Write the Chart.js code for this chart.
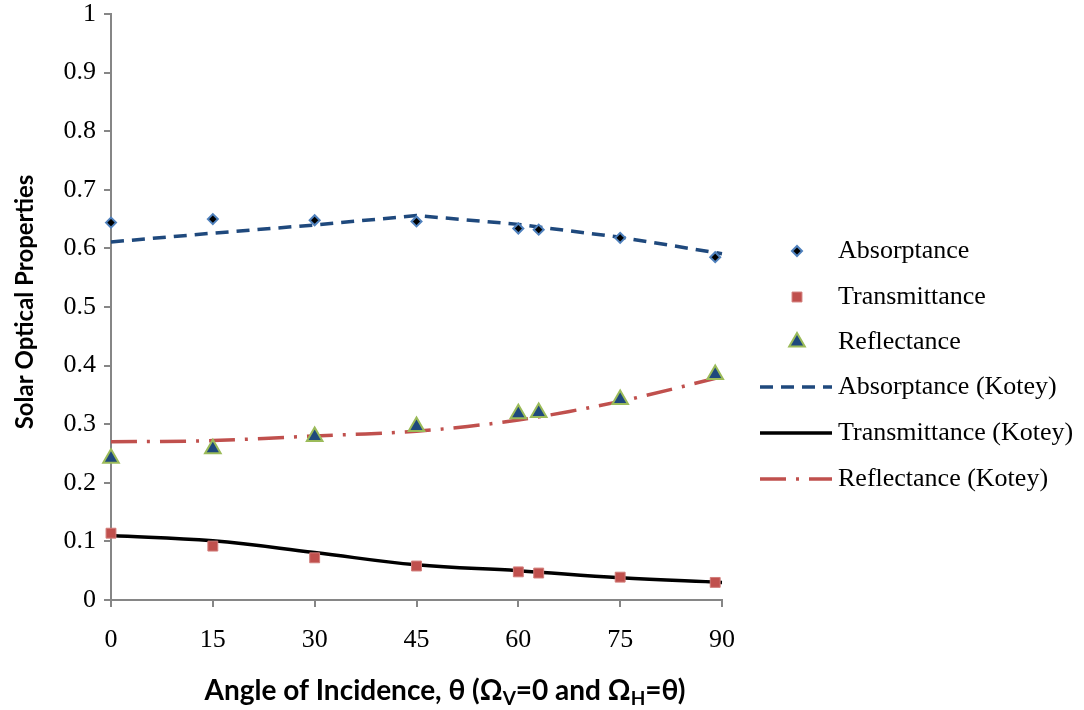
<!DOCTYPE html>
<html>
<head>
<meta charset="utf-8">
<script src="https://cdn.jsdelivr.net/npm/chart.js@4.4.0/dist/chart.umd.min.js"></script>
<style>
  html, body { margin: 0; padding: 0; background: #fff; }
</style>
</head>
<body>
<canvas id="chart" width="1084" height="710"></canvas>
<script>
// measured points
const angles = [0, 15, 30, 45, 60, 63, 75, 89];
const absorptance = [0.644, 0.650, 0.648, 0.646, 0.634, 0.632, 0.618, 0.585];
const transmittance = [0.114, 0.092, 0.072, 0.058, 0.048, 0.046, 0.039, 0.030];
const reflectance = [0.242, 0.258, 0.279, 0.296, 0.318, 0.320, 0.342, 0.385];

// Kotey model curves
const koteyAngles = [0, 15, 30, 45, 60, 75, 90];
const koteyAbs = [0.611, 0.626, 0.640, 0.656, 0.641, 0.619, 0.591];
const koteyTrans = [0.110, 0.101, 0.081, 0.060, 0.050, 0.038, 0.030];
const koteyRefl = [0.270, 0.272, 0.280, 0.288, 0.307, 0.339, 0.381];

const xTicks = [0, 15, 30, 45, 60, 75, 90];
const yTicks = [0, 0.1, 0.2, 0.3, 0.4, 0.5, 0.6, 0.7, 0.8, 0.9, 1];

const yTitle = 'Solar Optical Properties';
// [text, isSubscript]
const xTitle = [['Angle of Incidence, θ (Ω', false], ['V', true], ['=0 and Ω', false], ['H', true], ['=θ)', false]];

const labels = ['Absorptance', 'Transmittance', 'Reflectance',
  'Absorptance (Kotey)', 'Transmittance (Kotey)', 'Reflectance (Kotey)'];

function pts(xs, ys) {
  return xs.map((x, i) => ({ x: x, y: ys[i] }));
}

const serif = '"Liberation Serif", "Times New Roman", serif';
const sansBold = 'Lato, "Open Sans", sans-serif';
const axisGray = '#868686';

// titles + legend drawn by hand (needs subscripts / line samples)
const extras = {
  id: 'extras',
  afterDraw(c) {
    const ctx = c.ctx;

    ctx.save();
    ctx.fillStyle = '#000';
    ctx.font = 'bold 24px ' + sansBold;
    ctx.translate(33, 302);
    ctx.rotate(-Math.PI / 2);
    ctx.textAlign = 'center';
    ctx.textBaseline = 'alphabetic';
    ctx.fillText(yTitle, 0, 0);
    ctx.restore();

    ctx.save();
    ctx.fillStyle = '#000';
    ctx.textBaseline = 'alphabetic';
    ctx.textAlign = 'left';
    let total = 0;
    xTitle.forEach(p => {
      ctx.font = 'bold ' + (p[1] ? 19 : 28) + 'px ' + sansBold;
      total += ctx.measureText(p[0]).width;
    });
    let x = 445 - total / 2;
    xTitle.forEach(p => {
      ctx.font = 'bold ' + (p[1] ? 19 : 28) + 'px ' + sansBold;
      ctx.fillText(p[0], x, p[1] ? 705 : 700);
      x += ctx.measureText(p[0]).width;
    });
    ctx.restore();

    // legend
    const rows = [251, 297, 342, 387, 433, 479];
    c.data.datasets.forEach((ds, i) => {
      const y = rows[i];
      ctx.save();
      if (ds.showLine === false) {
        ctx.fillStyle = ds.pointBackgroundColor;
        ctx.strokeStyle = ds.pointBorderColor;
        ctx.lineWidth = ds.pointBorderWidth;
        Chart.helpers.drawPoint(ctx, {
          pointStyle: ds.pointStyle, radius: ds.pointRadius,
          rotation: 0, borderWidth: ds.pointBorderWidth
        }, 797, y);
      } else {
        ctx.strokeStyle = ds.borderColor;
        ctx.lineWidth = ds.borderWidth;
        ctx.setLineDash(ds.borderDash || []);
        ctx.beginPath();
        ctx.moveTo(760, y);
        ctx.lineTo(832, y);
        ctx.stroke();
      }
      ctx.restore();
      ctx.save();
      ctx.fillStyle = '#000';
      ctx.font = '26px ' + serif;
      ctx.textBaseline = 'middle';
      ctx.fillText(ds.label, 838, y);
      ctx.restore();
    });
  }
};

new Chart(document.getElementById('chart'), {
  type: 'line',
  data: {
    datasets: [
      {
        label: labels[0], data: pts(angles, absorptance), showLine: false,
        pointStyle: 'rectRot', pointRadius: 5, pointBackgroundColor: '#000',
        pointBorderColor: '#4F81BD', pointBorderWidth: 2, clip: false
      },
      {
        label: labels[1], data: pts(angles, transmittance), showLine: false,
        pointStyle: 'rect', pointRadius: 7, pointBackgroundColor: '#C0504D',
        pointBorderColor: '#D27E7B', pointBorderWidth: 1, clip: false
      },
      {
        label: labels[2], data: pts(angles, reflectance), showLine: false,
        pointStyle: 'triangle', pointRadius: 9, pointBackgroundColor: '#1F497D',
        pointBorderColor: '#9BBB59', pointBorderWidth: 2, clip: false
      },
      {
        label: labels[3], data: pts(koteyAngles, koteyAbs),
        borderColor: '#1F497D', borderWidth: 3.5, borderDash: [13, 8],
        pointRadius: 0, tension: 0, clip: false
      },
      {
        label: labels[4], data: pts(koteyAngles, koteyTrans),
        borderColor: '#000', borderWidth: 3.5,
        pointRadius: 0, tension: 0.4, clip: false
      },
      {
        label: labels[5], data: pts(koteyAngles, koteyRefl),
        borderColor: '#C0504D', borderWidth: 3.5, borderDash: [26, 10, 3, 10],
        pointRadius: 0, tension: 0.3, clip: false
      }
    ]
  },
  options: {
    responsive: false,
    animation: false,
    layout: { padding: { left: 0, top: 14, right: 362, bottom: 0 } },
    plugins: { legend: { display: false }, tooltip: { enabled: false } },
    scales: {
      x: {
        type: 'linear', min: 0, max: 90,
        afterFit: s => { s.height = 110; s.paddingLeft = 0; s.paddingRight = 0; },
        afterBuildTicks: s => { s.ticks = xTicks.map(v => ({ value: v })); },
        ticks: { color: '#000', font: { family: serif, size: 26 }, padding: 18 },
        grid: { drawOnChartArea: false, tickLength: 7, color: axisGray, lineWidth: 2 },
        border: { color: axisGray, width: 2 }
      },
      y: {
        min: 0, max: 1,
        afterFit: s => { s.width = 111; s.paddingTop = 0; s.paddingBottom = 0; },
        afterBuildTicks: s => { s.ticks = yTicks.map(v => ({ value: v })); },
        ticks: {
          color: '#000', font: { family: serif, size: 26 }, padding: 8,
          callback: v => String(Math.round(v * 10) / 10)
        },
        grid: { drawOnChartArea: false, tickLength: 7, color: axisGray, lineWidth: 2 },
        border: { color: axisGray, width: 2 }
      }
    }
  },
  plugins: [extras]
});
</script>
</body>
</html>
